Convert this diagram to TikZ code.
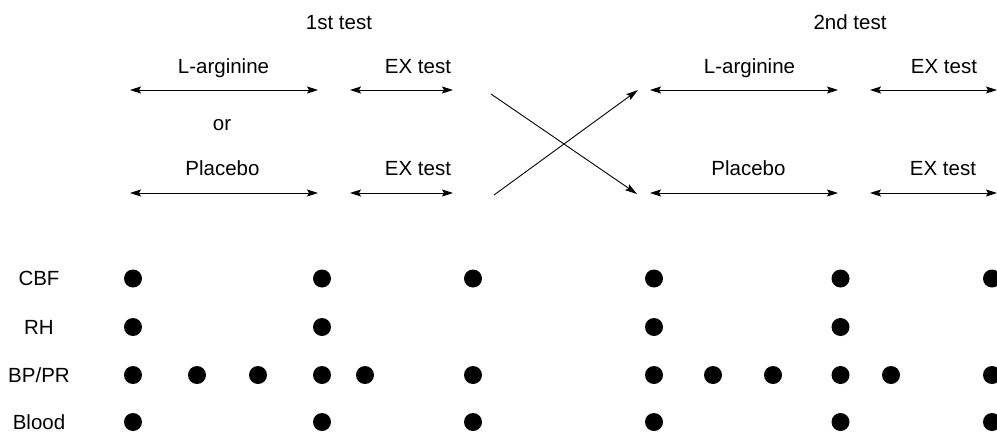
\documentclass[tikz,border=0pt]{standalone}
\usepackage{fontspec}
\setmainfont{Liberation Sans}
\usetikzlibrary{arrows.meta}
\begin{document}
\begin{tikzpicture}[x=1pt,y=-1pt,
  lbl/.style={anchor=base,inner sep=0pt,font=\fontsize{20.5}{24}\selectfont},
  rowlbl/.style={anchor=base,inner sep=0pt,font=\fontsize{20.5}{24}\selectfont},
  dot/.style={circle,fill=black,minimum size=18pt,inner sep=0pt},
  span/.style={line width=0.9pt,{Stealth[length=11pt,width=7pt,inset=2pt]}-{Stealth[length=11pt,width=7pt,inset=2pt]}},
  cross/.style={line width=0.9pt,-{Stealth[length=12pt,width=7pt,inset=2pt]}}]
\useasboundingbox (0,0) rectangle (997,434);
% headers
\node[lbl] (t1) at (339,29) {1st test};
\node[lbl] (t2) at (850,29) {2nd test};
\node[lbl] (la1) at (223.5,73) {L-arginine};
\node[lbl] (ex1) at (418,73) {EX test};
\node[lbl] (or) at (222,130) {or};
\node[lbl] (pl1) at (222.5,175) {Placebo};
\node[lbl] (ex2) at (418,175) {EX test};
\node[lbl] (la2) at (749.5,73) {L-arginine};
\node[lbl] (ex3) at (944,73) {EX test};
\node[lbl] (pl2) at (748.5,175) {Placebo};
\node[lbl] (ex4) at (943,175) {EX test};
% span arrows
\coordinate (a1l) at (130,90); \coordinate (a1r) at (318,90);
\coordinate (a2l) at (350,90); \coordinate (a2r) at (453,90);
\coordinate (a3l) at (650,90); \coordinate (a3r) at (838,90);
\coordinate (a4l) at (870,90); \coordinate (a4r) at (997,90);
\coordinate (b1l) at (130,193); \coordinate (b1r) at (318,193);
\coordinate (b2l) at (350,193); \coordinate (b2r) at (453,193);
\coordinate (b3l) at (650,193); \coordinate (b3r) at (838,193);
\coordinate (b4l) at (870,193); \coordinate (b4r) at (997,193);
\foreach \p in {a1,a2,a3,a4,b1,b2,b3,b4} \draw[span] (\p l) -- (\p r);
% crossing arrows
\coordinate (c1s) at (491,94); \coordinate (c1e) at (637,194);
\coordinate (c2s) at (494,195); \coordinate (c2e) at (638,90);
\draw[cross] (c1s) -- (c1e);
\draw[cross] (c2s) -- (c2e);
% row labels
\node[rowlbl] (cbf) at (39,285.5) {CBF};
\node[rowlbl] (rh) at (39,334) {RH};
\node[rowlbl] (bp) at (39,382) {BP/PR};
\node[rowlbl] (bl) at (39,429) {Blood};
% dots
\foreach \x in {133,322,473,654,840.5,992} \node[dot] at (\x,278.5) {};
\foreach \x in {133,322,654,840.5} \node[dot] at (\x,327) {};
\foreach \x in {133,197,258,322,365,473,654,713,773,840.5,891,992} \node[dot] at (\x,375) {};
\foreach \x in {133,322,473,654,840.5,992} \node[dot] at (\x,422) {};
\end{tikzpicture}
\end{document}
